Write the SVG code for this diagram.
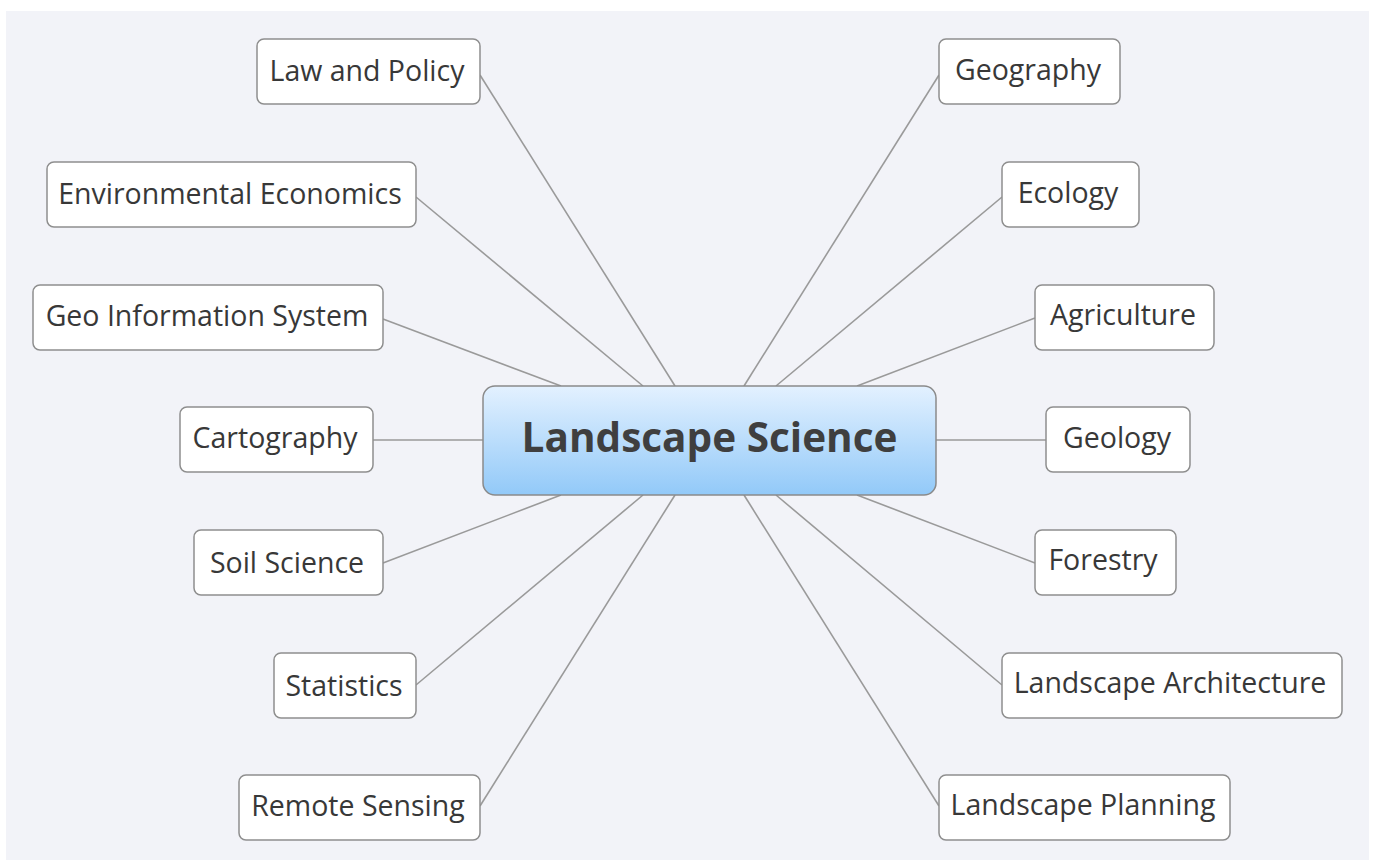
<svg xmlns="http://www.w3.org/2000/svg" width="1376" height="860" viewBox="0 0 1376 860">
<defs>
<linearGradient id="cg" x1="0" y1="0" x2="0" y2="1">
<stop offset="0" stop-color="#e3f1ff"/>
<stop offset="1" stop-color="#92c9f8"/>
</linearGradient>
<style>
.bg{fill:#f2f3f8}
.box{fill:#ffffff;stroke:#8e8e8e;stroke-width:1.5}
.ctr{fill:url(#cg);stroke:#8a8a8a;stroke-width:1.5}
.t{font-family:"Open Sans","Noto Sans","DejaVu Sans",sans-serif;font-size:28.5px;fill:#383838;text-anchor:middle}
.tc{font-family:"Open Sans","Noto Sans","DejaVu Sans",sans-serif;font-size:40.5px;font-weight:bold;fill:#3f3f3f;text-anchor:middle}
.ln{stroke:#9a9a9a;stroke-width:1.6;fill:none}
</style>
</defs>
<rect x="0" y="0" width="1376" height="860" fill="#ffffff"/>
<rect class="bg" x="6" y="11" width="1363" height="849"/>
<g id="connectors">
<line class="ln" x1="480" y1="75" x2="675" y2="386"/>
<line class="ln" x1="416" y1="197" x2="643" y2="386"/>
<line class="ln" x1="383" y1="319" x2="561" y2="386"/>
<line class="ln" x1="373" y1="440" x2="483" y2="440"/>
<line class="ln" x1="383" y1="563" x2="561" y2="495"/>
<line class="ln" x1="416" y1="685" x2="643" y2="495"/>
<line class="ln" x1="480" y1="806" x2="675" y2="495"/>
<line class="ln" x1="939" y1="75" x2="744" y2="386"/>
<line class="ln" x1="1002" y1="197" x2="776" y2="386"/>
<line class="ln" x1="1035" y1="318" x2="857" y2="386"/>
<line class="ln" x1="936" y1="440" x2="1046" y2="440"/>
<line class="ln" x1="1035" y1="563" x2="857" y2="495"/>
<line class="ln" x1="1002" y1="685" x2="776" y2="495"/>
<line class="ln" x1="939" y1="806" x2="744" y2="495"/>
</g>
<g id="center">
<rect class="ctr" x="483" y="386" width="453" height="109" rx="12"/>
<text class="tc" x="709.5" y="452">Landscape Science</text>
</g>
<g id="law"><rect class="box" x="257" y="39" width="223" height="65" rx="7"/><text class="t" x="367" y="81">Law and Policy</text></g>
<g id="env"><rect class="box" x="47" y="162" width="369" height="65" rx="7"/><text class="t" x="230" y="204">Environmental Economics</text></g>
<g id="gis"><rect class="box" x="33" y="285" width="350" height="65" rx="7"/><text class="t" x="207" y="326">Geo Information System</text></g>
<g id="carto"><rect class="box" x="180" y="407" width="193" height="65" rx="7"/><text class="t" x="275" y="448">Cartography</text></g>
<g id="soil"><rect class="box" x="194" y="530" width="189" height="65" rx="7"/><text class="t" x="287" y="573">Soil Science</text></g>
<g id="stats"><rect class="box" x="274" y="653" width="142" height="65" rx="7"/><text class="t" x="344" y="696">Statistics</text></g>
<g id="rs"><rect class="box" x="239" y="775" width="241" height="65" rx="7"/><text class="t" x="358" y="816">Remote Sensing</text></g>
<g id="geog"><rect class="box" x="939" y="39" width="181" height="65" rx="7"/><text class="t" x="1028" y="80">Geography</text></g>
<g id="eco"><rect class="box" x="1002" y="162" width="137" height="65" rx="7"/><text class="t" x="1068" y="203">Ecology</text></g>
<g id="agri"><rect class="box" x="1035" y="285" width="179" height="65" rx="7"/><text class="t" x="1123" y="325">Agriculture</text></g>
<g id="geol"><rect class="box" x="1046" y="407" width="144" height="65" rx="7"/><text class="t" x="1117" y="448">Geology</text></g>
<g id="forest"><rect class="box" x="1035" y="530" width="141" height="65" rx="7"/><text class="t" x="1103" y="570">Forestry</text></g>
<g id="la"><rect class="box" x="1002" y="653" width="340" height="65" rx="7"/><text class="t" x="1170" y="693">Landscape Architecture</text></g>
<g id="lp"><rect class="box" x="939" y="775" width="291" height="65" rx="7"/><text class="t" x="1083" y="815">Landscape Planning</text></g>
</svg>
